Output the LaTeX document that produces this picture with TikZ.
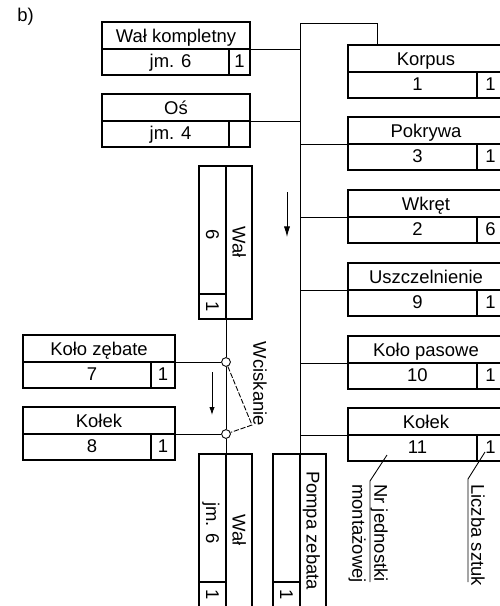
\documentclass[tikz,border=0pt]{standalone}
\usepackage{fontspec}
\setmainfont{Liberation Sans}
\usepackage{tikz}
\usetikzlibrary{arrows.meta}

% horizontal part box: name, left x, top y, width, qty cell width, label, number, qty
\newcommand{\partH}[8]{%
  \draw[boxline] (#2,#3) rectangle ({#2+#4},{#3+53});
  \draw[boxline] (#2,{#3+27}) -- ({#2+#4},{#3+27});
  \draw[boxline] ({#2+#4-#5},{#3+27}) -- ({#2+#4-#5},{#3+53});
  \coordinate (#1-t) at (#2,#3);
  \coordinate (#1-w) at (#2,{#3+27});
  \coordinate (#1-e) at ({#2+#4},{#3+27});
  \node[lbl] (#1-name) at ({#2+#4/2},{#3+20}) {#6};
  \node[lbl] (#1-num) at ({#2+(#4-#5)/2+5},{#3+45}) {#7};
  \node[lbl] (#1-qty) at ({#2+#4-#5/2},{#3+45}) {#8};
}

% vertical part box, read from top to bottom: name, left x, top y, label, number, qty
\newcommand{\partV}[6]{%
  \draw[boxline] (#2,#3) rectangle ({#2+53},{#3+153});
  \draw[boxline] ({#2+27},#3) -- ({#2+27},{#3+153});
  \draw[boxline] (#2,{#3+128}) -- ({#2+27},{#3+128});
  \coordinate (#1-n) at ({#2+27},#3);
  \coordinate (#1-s) at ({#2+27},{#3+153});
  \node[lbl, rotate=-90] (#1-name) at ({#2+33.5},{#3+76.5}) {#4};
  \node[lbl, rotate=-90] (#1-num) at ({#2+7},{#3+69}) {#5};
  \node[lbl, rotate=-90] (#1-qty) at ({#2+7},{#3+140.5}) {#6};
}

\begin{document}
\begin{tikzpicture}[x=0.02cm, y=-0.02cm,
    font=\fontsize{10.5}{12.5}\selectfont,
    boxline/.style={line width=0.9pt},
    link/.style={line width=0.5pt},
    lbl/.style={inner sep=0pt, anchor=base},
    joint/.style={circle, draw, fill=white, line width=0.5pt,
                  inner sep=0pt, minimum size=5pt}]
  \useasboundingbox (0,0) rectangle (500,606);
  \node[lbl, anchor=base west] (tag) at (17,21) {b)};

  % Parts on the left
  \partH{walk}{102}{22}{148}{21}{Wał kompletny}{jm. 6}{1}
  \partH{os}{102}{94}{148}{21}{Oś}{jm. 4}{}
  \partH{kz}{23}{335}{152}{24}{Koło zębate}{7}{1}
  \partH{kol8}{23}{407}{152}{24}{Kołek}{8}{1}
  \partV{wal6}{199}{166}{Wał}{6}{1}
  \partV{wal}{199}{454}{Wał}{jm. 6}{1}
  \partV{pompa}{273}{454}{Pompa zebata}{}{1}

  % Parts on the right
  \partH{korpus}{348}{45}{156}{27}{Korpus}{1}{1}
  \partH{pokrywa}{348}{117}{156}{27}{Pokrywa}{3}{1}
  \partH{wkret}{348}{190}{156}{27}{Wkręt}{2}{6}
  \partH{uszcz}{348}{263}{156}{27}{Uszczelnienie}{9}{1}
  \partH{kpas}{348}{336}{156}{27}{Koło pasowe}{10}{1}
  \partH{kol11}{348}{408}{156}{27}{Kołek}{11}{1}

  % Main assembly line
  \coordinate (top) at (300,23);
  \coordinate (topR) at (377,23);
  \draw[link] (top) -- (pompa-n);
  \draw[link] (top) -- (topR) -- (topR |- korpus-t);
  \draw[link] (walk-e) -- (walk-e -| top);
  \draw[link] (os-e) -- (os-e -| top);
  \foreach \p in {pokrywa, wkret, uszcz, kpas, kol11}
    \draw[link] (\p-w -| top) -- (\p-w);

  % Shaft sub-assembly with pressing
  \node[joint] (j1) at (wal6-s |- kz-e) {};
  \node[joint] (j2) at (wal6-s |- kol8-e) {};
  \coordinate (press) at (252,425);
  \draw[link] (wal6-s) -- (j1) -- (j2) -- (wal-n);
  \draw[link] (kz-e) -- (j1);
  \draw[link] (kol8-e) -- (j2);
  \draw[link, dash pattern=on 3pt off 1pt] (j1) -- (press) -- (j2);
  \node[lbl, rotate=-90, anchor=center] (presslbl) at (260,384) {Wciskanie};

  % Direction arrows
  \coordinate (a1) at (212,372);
  \coordinate (a2) at (212,415);
  \coordinate (b1) at (287,192);
  \coordinate (b2) at (287,237);
  \draw[link, -{Latex[length=4.5pt, width=3pt]}] (a1) -- (a2);
  \draw[link, -{Latex[length=6pt, width=3.5pt]}] (b1) -- (b2);

  % Field descriptions
  \coordinate (nr-a) at (387,455);
  \coordinate (nr-b) at (370,481);
  \coordinate (nr-c) at (370,582);
  \draw[link] (nr-a) -- (nr-b) -- (nr-c);
  \node[lbl, rotate=-90, anchor=north west, align=left] (nr) at (388,484)
    {Nr jednostki\\montażowej};
  \coordinate (lq-a) at (485,452);
  \coordinate (lq-b) at (468,479);
  \coordinate (lq-c) at (468,582);
  \draw[link] (lq-a) -- (lq-b) -- (lq-c);
  \node[lbl, rotate=-90, anchor=north west] (lq) at (485,484) {Liczba sztuk};
\end{tikzpicture}
\end{document}
